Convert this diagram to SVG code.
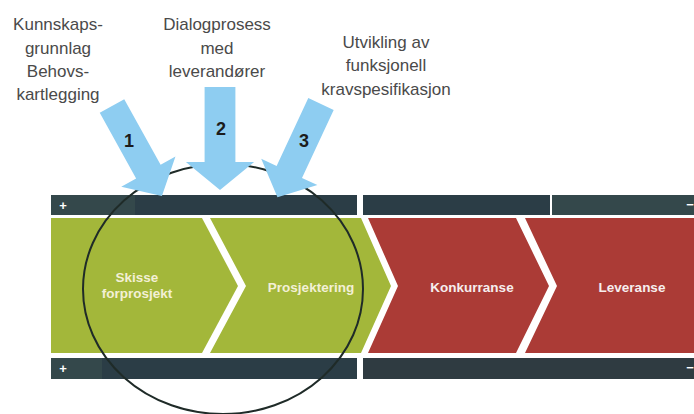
<svg xmlns="http://www.w3.org/2000/svg" width="694" height="414" viewBox="0 0 694 414">
<defs>
<style>
.lbl{font-family:"Liberation Sans","DejaVu Sans",sans-serif;font-size:17px;fill:#4a4a4a;text-anchor:middle}
.ch{font-family:"Liberation Sans","DejaVu Sans",sans-serif;font-size:13.5px;font-weight:bold;text-anchor:middle}
.g{fill:#a3b73a}
.r{fill:#ab3b36}
.bar{fill:#2b3d46}
.bar2{fill:#34484b}
.pm{font-family:"Liberation Sans","DejaVu Sans",sans-serif;font-size:13px;font-weight:bold;fill:#ffffff;text-anchor:middle}
.arr{fill:#8ecdf1}
.num{font-family:"Liberation Sans","DejaVu Sans",sans-serif;font-size:18px;font-weight:bold;fill:#1c1c1c;text-anchor:middle}
</style>
<polygon id="arrowShape" points="-14,0 14,0 14,75 31,75 0,103 -31,75 -14,75"/>
</defs>
<rect width="694" height="414" fill="#ffffff"/>

<g id="bars">
<rect class="bar2" x="51" y="195" width="84" height="20"/>
<rect class="bar" x="135" y="195" width="222" height="20"/>
<rect class="bar" x="363" y="195" width="187" height="20"/>
<rect class="bar2" x="552" y="195" width="142" height="20"/>
<text class="pm" x="63" y="210">+</text>
<text class="pm" x="690" y="209">−</text>
<rect class="bar2" x="51" y="358" width="51" height="21"/>
<rect class="bar" x="102" y="358" width="255" height="21"/>
<rect fill="#2f3b41" x="363" y="358" width="331" height="21"/>
<text class="pm" x="63" y="373">+</text>
<text class="pm" x="690" y="372">−</text>
</g>

<g id="skisse">
<polygon class="g" points="51,218 202,218 238,286 202,353 51,353"/>
<text class="ch" x="137" y="282" fill="#f3f0d6">Skisse</text>
<text class="ch" x="137" y="298" fill="#f3f0d6">forprosjekt</text>
</g>
<g id="prosjektering">
<polygon class="g" points="210,218 361,218 391,286 361,353 210,353 246,286"/>
<text class="ch" x="311" y="292" fill="#f3f0d6">Prosjektering</text>
</g>
<g id="konkurranse">
<polygon class="r" points="368,218 516,218 549,286 516,353 368,353 398,286"/>
<text class="ch" x="472" y="292" fill="#f6eeee">Konkurranse</text>
</g>
<g id="leveranse">
<polygon class="r" points="525,218 694,218 694,353 525,353 557,286"/>
<text class="ch" x="632" y="292" fill="#f6eeee">Leveranse</text>
</g>

<g id="focus">
<ellipse cx="223" cy="289" rx="140" ry="125" fill="none" stroke="#1f2b28" stroke-width="2"/>
</g>

<g id="label1">
<text class="lbl" x="58" y="30">Kunnskaps-</text>
<text class="lbl" x="58" y="54">grunnlag</text>
<text class="lbl" x="58" y="77">Behovs-</text>
<text class="lbl" x="58" y="100">kartlegging</text>
</g>
<g id="label2">
<text class="lbl" x="217" y="30">Dialogprosess</text>
<text class="lbl" x="217" y="54">med</text>
<text class="lbl" x="217" y="77">leverandører</text>
</g>
<g id="label3">
<text class="lbl" x="386" y="48">Utvikling av</text>
<text class="lbl" x="386" y="71">funksjonell</text>
<text class="lbl" x="386" y="95">kravspesifikasjon</text>
</g>

<g id="connectors">
<use href="#arrowShape" class="arr" transform="translate(112,106) rotate(-29)"/>
<use href="#arrowShape" class="arr" transform="translate(220,87) scale(1.1,1)"/>
<use href="#arrowShape" class="arr" transform="translate(321,104) rotate(25)"/>
<text class="num" x="129" y="147">1</text>
<text class="num" x="221" y="135">2</text>
<text class="num" x="304" y="147">3</text>
</g>
</svg>
